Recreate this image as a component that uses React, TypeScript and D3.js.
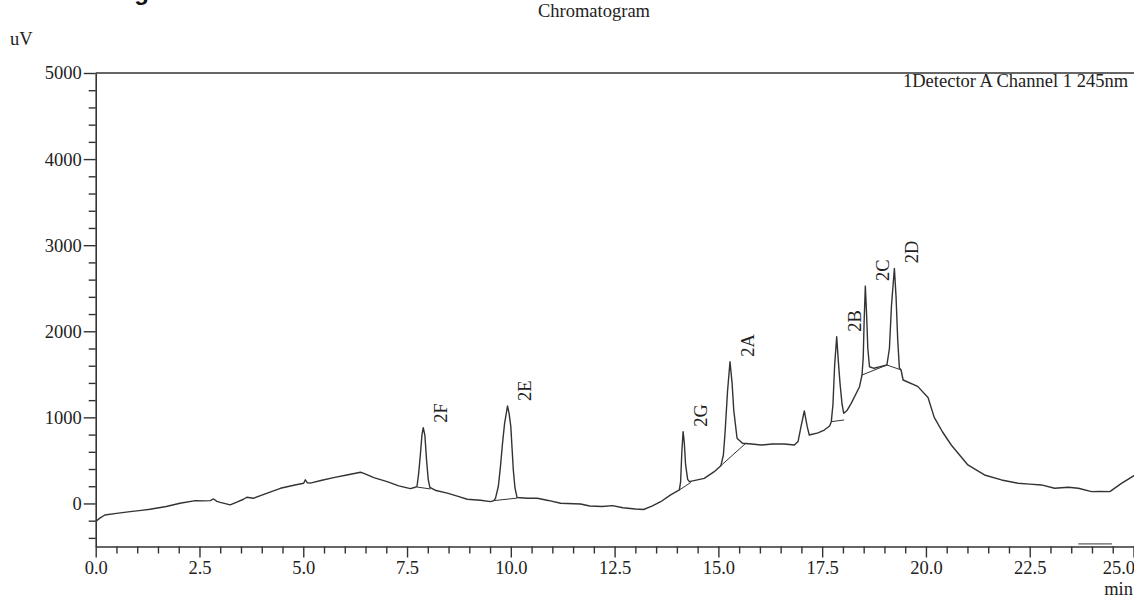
import { useRef, useEffect } from "react";
import * as d3 from "d3";

// chromatogram trace, [min, uV]
const signal: [number, number][] = [
  [0.0, -210], [0.1, -170], [0.22, -134], [0.5, -115], [0.83, -95], [1.1, -80],
  [1.31, -68], [1.7, -35], [2.03, 2], [2.4, 33], [2.6, 30], [2.76, 33], [2.84, 52],
  [2.92, 25], [3.0, 12], [3.24, -17], [3.4, 15], [3.56, 49], [3.64, 72], [3.8, 60],
  [4.1, 115], [4.45, 176], [4.8, 215], [5.01, 234], [5.05, 275], [5.1, 240],
  [5.17, 236], [5.45, 270], [5.73, 300], [6.05, 330], [6.38, 362], [6.46, 350],
  [6.7, 300], [7.02, 253], [7.3, 205], [7.58, 172], [7.7, 188], [7.74, 200],
  [7.78, 350], [7.82, 560], [7.86, 800], [7.89, 880], [7.93, 790], [7.97, 505],
  [8.01, 280], [8.05, 188], [8.2, 150], [8.47, 120], [8.75, 80], [8.95, 49],
  [9.27, 38], [9.51, 21], [9.59, 33], [9.63, 60], [9.7, 200], [9.75, 427],
  [9.8, 700], [9.85, 931], [9.92, 1132], [9.96, 1040], [10.0, 892], [10.06, 389],
  [10.1, 180], [10.15, 70], [10.4, 60], [10.64, 60], [10.9, 35], [11.2, 2],
  [11.68, -6], [11.9, -30], [12.2, -35], [12.45, -25], [12.7, -50], [13.0, -65],
  [13.2, -70], [13.4, -30], [13.61, 20], [13.85, 99], [14.06, 157], [14.09, 250],
  [14.12, 600], [14.15, 834], [14.18, 700], [14.21, 450], [14.26, 280], [14.3, 253],
  [14.66, 292], [14.9, 369], [15.06, 439], [15.12, 560], [15.16, 815], [15.22, 1300],
  [15.28, 1646], [15.33, 1400], [15.37, 1085], [15.45, 757], [15.58, 700], [15.8, 690],
  [16.03, 679], [16.3, 690], [16.59, 691], [16.83, 679], [16.92, 720], [16.99, 892],
  [17.07, 1074], [17.14, 892], [17.19, 795], [17.4, 820], [17.55, 853], [17.68, 900],
  [17.72, 950], [17.76, 1150], [17.8, 1600], [17.85, 1937], [17.89, 1650], [17.93, 1395],
  [17.98, 1150], [18.02, 1047], [18.1, 1080], [18.2, 1163], [18.4, 1356], [18.46, 1492],
  [18.49, 1700], [18.51, 2100], [18.54, 2525], [18.57, 2200], [18.6, 1800], [18.64, 1588],
  [18.75, 1570], [18.9, 1590], [19.06, 1608], [19.12, 1800], [19.17, 2300], [19.24, 2731],
  [19.28, 2400], [19.32, 1900], [19.36, 1575], [19.4, 1550], [19.45, 1434], [19.8, 1360],
  [20.05, 1230], [20.2, 1000], [20.4, 830], [20.61, 679], [21.01, 447], [21.41, 331],
  [21.82, 273], [22.22, 234], [22.5, 225], [22.78, 215], [23.1, 176], [23.43, 188],
  [23.67, 176], [23.99, 137], [24.2, 140], [24.43, 137], [24.71, 234], [25.05, 335],
];

// integration baselines drawn under the peaks: [t1, v1, t2, v2]
const baselines: [number, number, number, number][] = [
  [7.72, 192, 8.07, 168],
  [9.59, 33, 10.15, 62],
  [14.06, 157, 14.34, 245],
  [15.06, 439, 15.66, 699],
  [17.72, 950, 18.03, 970],
  [18.46, 1492, 19.06, 1608],
  [19.06, 1608, 19.41, 1550],
];

// event mark near the x axis
const eventMarks: [number, number, number, number][] = [[23.67, -470, 24.48, -470]];

const peakNames = ["2F", "2E", "2G", "2A", "2B", "2C", "2D"];
const peakTimes = [7.89, 9.92, 14.15, 15.28, 17.85, 18.54, 19.24];
const peakApex = [880, 1132, 834, 1646, 1937, 2525, 2731];

const yMajor = [0, 1000, 2000, 3000, 4000, 5000];
const yMinor = d3.range(-400, 5000, 200).filter((v) => v % 1000 !== 0);
const xMajor = [0, 2.5, 5, 7.5, 10, 12.5, 15, 17.5, 20, 22.5, 25];
const xMinor = d3.range(0, 25.01, 0.5).filter((v) => Math.abs(v / 2.5 - Math.round(v / 2.5)) > 1e-6);

const W = 1134;
const H = 598;
const FONT = "'Liberation Serif', 'Times New Roman', serif";
const INK = "#222";

export default function App() {
  const gx = useRef<SVGGElement>(null);
  const gxm = useRef<SVGGElement>(null);
  const gy = useRef<SVGGElement>(null);
  const gym = useRef<SVGGElement>(null);

  const x = d3.scaleLinear([0, 25], [95.7, 1133.5]);
  const y = d3.scaleLinear([-500, 5000], [546.5, 73]);
  const line = d3.line<[number, number]>((d) => x(d[0]), (d) => y(d[1]));

  useEffect(() => {
    const style = (g: d3.Selection<SVGGElement, unknown, null, undefined>) => {
      g.selectAll("line").attr("stroke", "#333").attr("stroke-width", 1.4);
      g.selectAll("path").attr("stroke", "#333").attr("stroke-width", 1.6);
      g.selectAll("text").attr("fill", INK).attr("font-family", FONT).attr("font-size", 18.5);
    };
    d3.select(gy.current!)
      .call(d3.axisLeft(y).tickValues(yMajor).tickSize(12).tickSizeOuter(0).tickPadding(2).tickFormat(d3.format("d")))
      .call(style);
    d3.select(gym.current!)
      .call(d3.axisLeft(y).tickValues(yMinor).tickSize(7).tickFormat(() => ""))
      .call((g) => g.select(".domain").remove())
      .call(style);
    d3.select(gx.current!)
      .call(d3.axisBottom(x).tickValues(xMajor).tickSize(11).tickSizeOuter(0).tickPadding(3).tickFormat(d3.format(".1f")))
      .call(style)
      .call((g) => g.selectAll<SVGTextElement, number>("text").filter((d) => d === 25).attr("text-anchor", "end").attr("x", 1));
    d3.select(gxm.current!)
      .call(d3.axisBottom(x).tickValues(xMinor).tickSize(7).tickFormat(() => ""))
      .call((g) => g.select(".domain").remove())
      .call(style);
  }, []);

  return (
    <svg width={W} height={H} style={{ position: "absolute", left: 0, top: 0, background: "#fff" }}>
      <text x={7} y={0} fontFamily="'Liberation Sans', Arial, sans-serif" fontWeight="bold" fontSize={24} fill="#111">
        {"<Chromatogram>"}
      </text>
      <text x={594} y={17} textAnchor="middle" fontFamily={FONT} fontSize={18.5} fill={INK}>Chromatogram</text>
      <text x={10} y={45} fontFamily={FONT} fontSize={18.5} fill={INK}>uV</text>
      <text x={903} y={87} fontFamily={FONT} fontSize={18.5} fill={INK}>1Detector A Channel 1 245nm</text>
      <text x={1133} y={595} textAnchor="end" fontFamily={FONT} fontSize={18.5} fill={INK}>min</text>

      <line x1={x(0)} x2={W} y1={y(5000)} y2={y(5000)} stroke="#333" strokeWidth={1.6} />
      <g ref={gy} transform={`translate(${x(0)},0)`} />
      <g ref={gym} transform={`translate(${x(0)},0)`} />
      <g ref={gx} transform={`translate(0,${y(-500)})`} />
      <g ref={gxm} transform={`translate(0,${y(-500)})`} />

      <path d={line(signal) ?? ""} fill="none" stroke="#333" strokeWidth={1.4} strokeLinejoin="round" />
      <g stroke="#333" strokeWidth={1}>
        {baselines.map((b, i) => (
          <line key={i} x1={x(b[0])} y1={y(b[1])} x2={x(b[2])} y2={y(b[3])} />
        ))}
        {eventMarks.map((b, i) => (
          <line key={"e" + i} x1={x(b[0])} y1={y(b[1])} x2={x(b[2])} y2={y(b[3])} />
        ))}
      </g>

      <g fontFamily={FONT} fontSize={18.5} fill={INK}>
        {peakNames.map((name, i) => (
          <text key={name} transform={`translate(${x(peakTimes[i]) + 24},${y(peakApex[i]) - 5}) rotate(-90)`}>
            {name}
          </text>
        ))}
      </g>
    </svg>
  );
}
